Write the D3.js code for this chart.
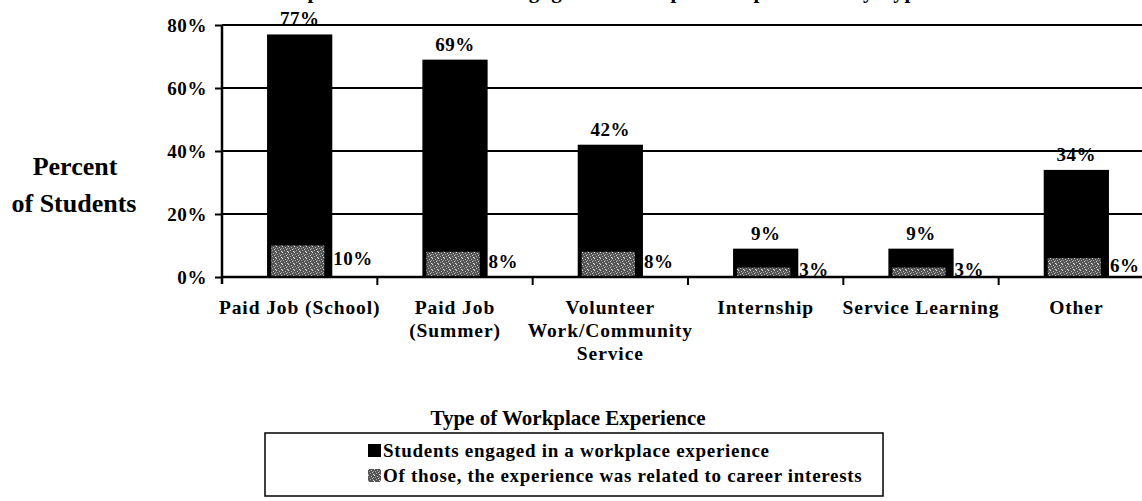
<!DOCTYPE html>
<meta charset="utf-8">
<style>
  body { margin: 0; background: #fff; }
  svg { font-family: 'Liberation Serif', 'Times New Roman', serif; font-weight: bold; }
</style>
<script src="https://d3js.org/d3.v7.min.js"></script>
<body>
<svg id="chart" width="1142" height="501"></svg>
<script>

// data
var categories = [["Paid Job (School)"], ["Paid Job", "(Summer)"], ["Volunteer", "Work/Community", "Service"],
                  ["Internship"], ["Service Learning"], ["Other"]];
var engaged = [77, 69, 42, 9, 9, 34];
var related = [10, 8, 8, 3, 3, 6];
var yTicks = [0, 20, 40, 60, 80];
var legendLabels = ["Students engaged in a workplace experience",
                    "Of those, the experience was related to career interests"];

var svg = d3.select("#chart");
var plotLeft = 222, plotRight = 1154, plotTop = 25, plotBottom = 277;

var x = d3.scaleBand()
  .domain(d3.range(categories.length))
  .range([plotLeft, plotRight])
  .paddingInner(0.58)
  .paddingOuter(0.29);
var y = d3.scaleLinear().domain([0, 80]).range([plotBottom, plotTop]);

// speckled pattern for the second series
var defs = svg.append("defs");
var pat = defs.append("pattern").attr("id", "stip")
  .attr("width", 6).attr("height", 6).attr("patternUnits", "userSpaceOnUse");
pat.append("rect").attr("width", 6).attr("height", 6).attr("fill", "#555");
[[0, 0, "#ddd"], [3, 1, "#bbb"], [1, 2, "#999"], [4, 3, "#ccc"], [2, 4, "#aaa"], [5, 5, "#ddd"], [0, 5, "#888"], [5, 2, "#999"]]
  .forEach(p => pat.append("rect").attr("x", p[0]).attr("y", p[1])
    .attr("width", 1).attr("height", 1).attr("fill", p[2]));

// title, cut off at the top edge as in the scan
svg.append("text").attr("x", 600).attr("y", -2).attr("text-anchor", "middle")
  .attr("font-size", 21).attr("letter-spacing", 0.8)
  .text("Proportion of Students Engaged in Workplace Experiences by Type");

// gridlines
svg.append("g").selectAll("line").data(yTicks.slice(1)).join("line")
  .attr("x1", plotLeft).attr("x2", 1142)
  .attr("y1", d => y(d)).attr("y2", d => y(d))
  .attr("stroke", "#000").attr("stroke-width", 2);

// bars
svg.append("g").selectAll("rect").data(engaged).join("rect")
  .attr("x", (d, i) => x(i)).attr("width", x.bandwidth())
  .attr("y", d => y(d)).attr("height", d => plotBottom - y(d))
  .attr("fill", "#000");

svg.append("g").selectAll("rect").data(related).join("rect")
  .attr("x", (d, i) => x(i) + 4).attr("width", x.bandwidth() - 12)
  .attr("y", d => y(d)).attr("height", d => plotBottom - y(d))
  .attr("fill", "url(#stip)");

// value labels
svg.append("g").selectAll("text").data(engaged).join("text")
  .attr("x", (d, i) => x(i) + x.bandwidth() / 2).attr("y", d => y(d) - 9)
  .attr("text-anchor", "middle").attr("font-size", 19).attr("letter-spacing", 0.5)
  .text(d => d + "%");

svg.append("g").selectAll("text").data(related).join("text")
  .attr("x", (d, i) => x(i) + x.bandwidth() + 1).attr("y", d => y(d / 2) + 4)
  .attr("font-size", 19).attr("letter-spacing", 0.5)
  .text(d => d + "%");

// y axis
var yAxis = svg.append("g").attr("transform", `translate(${plotLeft},0)`)
  .call(d3.axisLeft(y).tickValues(yTicks).tickFormat(d => d + "%").tickSize(7).tickPadding(8));
yAxis.select(".domain").attr("stroke-width", 2.5).attr("d", `M0,${plotTop}V${plotBottom + 7}`);
yAxis.selectAll(".tick line").attr("stroke-width", 2);
yAxis.selectAll("text").attr("font-size", 19).attr("letter-spacing", 0.6).attr("fill", "#000")
  .attr("font-family", "'Liberation Serif', serif").attr("font-weight", "bold");

// x axis line and ticks between categories
svg.append("line").attr("x1", plotLeft).attr("x2", 1142).attr("y1", plotBottom).attr("y2", plotBottom)
  .attr("stroke", "#000").attr("stroke-width", 2.5);
svg.append("g").selectAll("line").data(d3.range(1, categories.length)).join("line")
  .attr("x1", i => x(i) - x.step() * x.paddingInner() / 2)
  .attr("x2", i => x(i) - x.step() * x.paddingInner() / 2)
  .attr("y1", plotBottom).attr("y2", plotBottom + 8)
  .attr("stroke", "#000").attr("stroke-width", 2);

// category labels
svg.append("g").selectAll("text").data(categories).join("text")
  .attr("x", (d, i) => x(i) + x.bandwidth() / 2).attr("y", 314)
  .attr("text-anchor", "middle").attr("font-size", 19.5).attr("letter-spacing", 0.9)
  .each(function (d) {
    d3.select(this).selectAll("tspan").data(d).join("tspan")
      .attr("x", d3.select(this).attr("x"))
      .attr("dy", (t, j) => j ? 23 : 0)
      .text(t => t);
  });

// axis titles
var yt = svg.append("text").attr("text-anchor", "middle").attr("font-size", 26);
yt.append("tspan").attr("x", 75).attr("y", 175).text("Percent");
yt.append("tspan").attr("x", 74).attr("y", 212).text("of Students");

svg.append("text").attr("x", 568).attr("y", 425).attr("text-anchor", "middle")
  .attr("font-size", 21).text("Type of Workplace Experience");

// legend
svg.append("rect").attr("x", 265).attr("y", 433).attr("width", 618).attr("height", 63)
  .attr("fill", "none").attr("stroke", "#000").attr("stroke-width", 1.5);
var leg = svg.append("g").selectAll("g").data(legendLabels).join("g")
  .attr("transform", (d, i) => `translate(368,${444 + i * 25})`);
leg.append("rect").attr("width", 13).attr("height", 13)
  .attr("fill", (d, i) => i ? "url(#stip)" : "#000");
leg.append("text").attr("x", 15).attr("y", 13).attr("font-size", 19).attr("letter-spacing", 0.7).text(d => d);

</script>
</body>
